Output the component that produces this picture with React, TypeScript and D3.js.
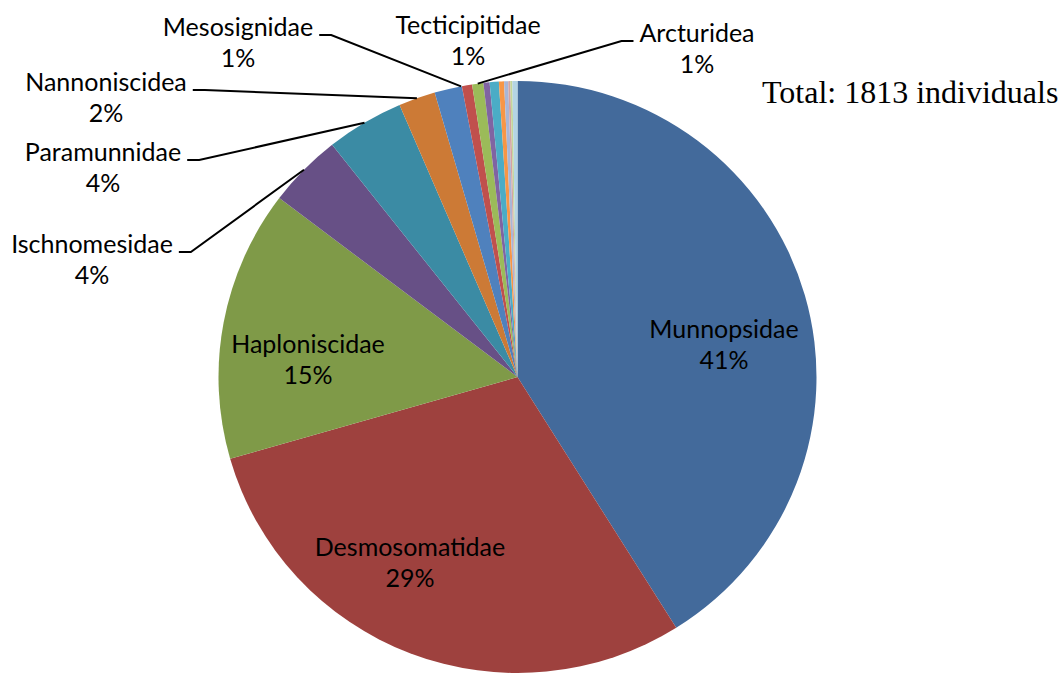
import * as d3 from "d3";
import { useMemo } from "react";

const WIDTH = 1062;
const HEIGHT = 675;
const CX = 517.5;
const CY = 377;
const R = 299;
const SY = 0.99; // pie is a touch flatter than round in the original
const FONT = "Lato, 'Open Sans', sans-serif";
const FONT_SIZE = 25;
const LINE_GAP = 31;

// isopod families, clockwise from 12 o'clock
const families = [
  "Munnopsidae",
  "Desmosomatidae",
  "Haploniscidae",
  "Ischnomesidae",
  "Paramunnidae",
  "Nannoniscidea",
  "Mesosignidae",
  "Tecticipitidae",
  "Arcturidea",
  "", "", "", "", "", "", "",
];
const counts = [745, 534, 268, 73, 76, 36, 27, 10, 11, 6, 9, 5, 4, 2, 2, 5];
const colors = [
  "#436A9B", "#9E413E", "#7F9A48", "#675086", "#3B8BA4", "#CC7A36",
  "#4F81BD", "#C0504D", "#9BBB59", "#8064A2", "#4BACC6", "#F79646",
  "#A9B6D6", "#D5A3A2", "#C3D69B", "#B4D4E4",
];
const totalLabel = "Total: 1813 individuals";

// where each label sits: x = text centre, y = baseline of the name line
type Layout = { x: number; y: number; leader?: "left" | "right"; at?: number };
const LABELS: { [name: string]: Layout } = {
  Munnopsidae: { x: 724, y: 338 },
  Desmosomatidae: { x: 410, y: 556 },
  Haploniscidae: { x: 308, y: 353 },
  Ischnomesidae: { x: 92, y: 253, leader: "left" },
  Paramunnidae: { x: 103, y: 161, leader: "left" },
  Nannoniscidea: { x: 106, y: 91, leader: "left" },
  Mesosignidae: { x: 238, y: 36, leader: "left", at: 0.97 },
  Tecticipitidae: { x: 468, y: 34 },
  Arcturidea: { x: 697, y: 42, leader: "right" },
};

const measure = (() => {
  let ctx: CanvasRenderingContext2D | null = null;
  return (s: string) => {
    if (!ctx) {
      ctx = document.createElement("canvas").getContext("2d");
    }
    if (!ctx) return s.length * FONT_SIZE * 0.5;
    ctx.font = `${FONT_SIZE}px Lato`;
    return ctx.measureText(s).width;
  };
})();

export const PieChart = () => {
  const total = d3.sum(counts);
  const arcs = useMemo(() => {
    const pie = d3.pie<number>().sort(null).value((d) => d);
    return pie(counts);
  }, []);

  const arcBuilder = d3.arc<d3.PieArcDatum<number>>().innerRadius(0).outerRadius(R);

  const pct = (v: number) => `${Math.round((v / total) * 100)}%`;

  return (
    <svg width={WIDTH} height={HEIGHT} style={{ display: "block", position: "absolute", left: 0, top: 0 }}>
      <g transform={`translate(${CX},${CY}) scale(1,${SY})`}>
        {arcs.map((a, i) => (
          <path key={i} d={arcBuilder(a) || ""} fill={colors[i]} stroke="none" />
        ))}
      </g>

      {arcs.map((a, i) => {
        const name = families[i];
        const lay = LABELS[name];
        if (!name || !lay) return null;
        let leader = null;
        if (lay.leader) {
          const f = lay.at ?? 0.5;
          const ang = a.startAngle + (a.endAngle - a.startAngle) * f;
          const ax = CX + R * Math.sin(ang);
          const ay = CY - R * Math.cos(ang) * SY;
          const half = measure(name) / 2;
          const ly = lay.y - 1;
          let pts: [number, number][];
          if (lay.leader === "left") {
            const x0 = lay.x + half + 6;
            pts = [[x0, ly], [x0 + 12, ly], [ax, ay]];
          } else {
            const x0 = lay.x - half - 6;
            pts = [[x0, ly], [x0 - 12, ly], [ax, ay]];
          }
          leader = (
            <path d={d3.line()(pts) || ""} fill="none" stroke="#000" strokeWidth={2} />
          );
        }
        return (
          <g key={"l" + i}>
            {leader}
            <text
              textAnchor="middle"
              fontFamily={FONT}
              fontSize={FONT_SIZE}
              fill="#000"
            >
              <tspan x={lay.x} y={lay.y}>{name}</tspan>
              <tspan x={lay.x} y={lay.y + LINE_GAP}>{pct(counts[i])}</tspan>
            </text>
          </g>
        );
      })}

      <text x={762} y={103} fontFamily="'Liberation Serif', 'Times New Roman', serif" fontSize={32} fill="#000">
        {totalLabel}
      </text>
    </svg>
  );
};

export default function App() {
  return (
    <div style={{ width: WIDTH, height: HEIGHT }}>
      <PieChart />
    </div>
  );
}
